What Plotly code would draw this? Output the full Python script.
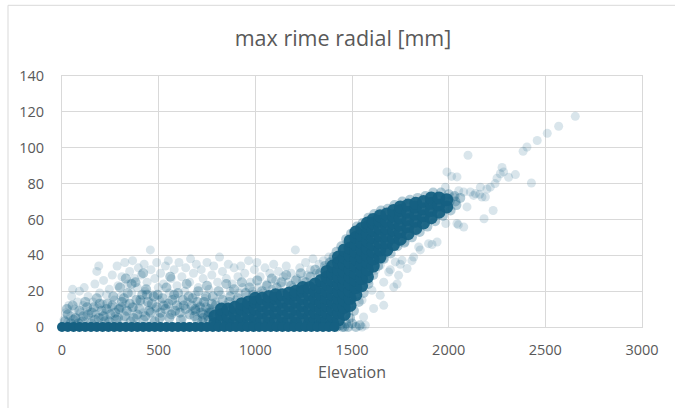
import plotly.graph_objects as go

# ---------------- data ----------------
# elevation values of the many stations with 0 mm rime (baseline band)
base_x = [0, 30, 60, 90, 120, 150, 180, 210, 240, 270, 300, 330, 360, 390, 420, 450,
          480, 510, 540, 570, 600, 630, 660, 690, 720, 750, 780, 810, 840, 870, 900, 930,
          960, 990, 1020, 1050, 1080, 1110, 1140, 1170, 1200, 1230, 1260, 1290, 1320,
          1350, 1380, 1410]
base_y = [0] * len(base_x)

# dense core of the cloud
core_x = [
    790, 790,
    825, 825, 825,
    860, 860, 860,
    895, 895, 895,
    930, 930, 930, 930,
    965, 965, 965, 965,
    1000, 1000, 1000, 1000, 1000,
    1035, 1035, 1035, 1035,
    1070, 1070, 1070, 1070, 1070,
    1105, 1105, 1105, 1105, 1105,
    1140, 1140, 1140, 1140, 1140,
    1175, 1175, 1175, 1175, 1175,
    1210, 1210, 1210, 1210, 1210, 1210,
    1245, 1245, 1245, 1245, 1245, 1245,
    1280, 1280, 1280, 1280, 1280, 1280,
    1310, 1310, 1310, 1310, 1310, 1310,
    1340, 1340, 1340, 1340, 1340, 1340, 1340,
    1370, 1370, 1370, 1370, 1370, 1370, 1370, 1370,
    1400, 1400, 1400, 1400, 1400, 1400, 1400, 1400, 1400,
    1430, 1430, 1430, 1430, 1430, 1430, 1430, 1430, 1430, 1430,
    1460, 1460, 1460, 1460, 1460, 1460, 1460, 1460, 1460, 1460,
    1490, 1490, 1490, 1490, 1490, 1490, 1490, 1490, 1490, 1490,
    1520, 1520, 1520, 1520, 1520, 1520, 1520, 1520, 1520, 1520,
    1550, 1550, 1550, 1550, 1550, 1550, 1550, 1550, 1550,
    1580, 1580, 1580, 1580, 1580, 1580, 1580, 1580, 1580,
    1610, 1610, 1610, 1610, 1610, 1610, 1610, 1610,
    1645, 1645, 1645, 1645, 1645, 1645, 1645,
    1680, 1680, 1680, 1680, 1680, 1680,
    1715, 1715, 1715, 1715, 1715, 1715,
    1750, 1750, 1750, 1750, 1750, 1750,
    1790, 1790, 1790, 1790, 1790,
    1830, 1830, 1830, 1830, 1830,
    1870, 1870, 1870, 1870,
    1910, 1910, 1910, 1910,
    1950, 1950, 1950,
    1990, 1990,
]
core_y = [
    2, 6,
    3, 7, 10,
    2, 6, 10,
    3, 7, 11,
    2, 6, 10, 13,
    3, 7, 11, 14,
    2, 6, 10, 14, 16,
    4, 8, 12, 16,
    2, 6, 10, 14, 17,
    4, 8, 12, 16, 18,
    2, 6, 10, 14, 18,
    4, 8, 12, 16, 19,
    2, 6, 10, 14, 18, 20,
    4, 8, 12, 16, 20, 22,
    2, 6, 10, 14, 18, 22,
    4, 8, 12, 16, 20, 24,
    2, 6, 10, 14, 18, 22, 26,
    4, 8, 12, 16, 20, 24, 28, 31,
    2, 6, 10, 14, 18, 22, 26, 30, 34,
    4, 8, 12, 16, 20, 24, 28, 32, 36, 39,
    7, 11, 15, 19, 23, 27, 31, 35, 39, 43,
    12, 16, 20, 24, 28, 32, 36, 40, 44, 48,
    18, 22, 26, 30, 34, 38, 42, 46, 50, 53,
    23, 27, 31, 35, 39, 43, 47, 51, 55,
    28, 32, 36, 40, 44, 48, 52, 56, 58,
    34, 38, 42, 46, 50, 54, 58, 60,
    39, 43, 47, 51, 55, 59, 62,
    43, 47, 51, 55, 59, 63,
    46, 50, 54, 58, 62, 65,
    49, 53, 57, 61, 65, 67,
    52, 56, 60, 64, 68,
    55, 59, 63, 67, 69,
    58, 62, 66, 70,
    61, 65, 69, 72,
    64, 68, 72,
    67, 71,
]

# medium-density part of the cloud and the fringes of the core
mid_x = [15, 30, 45, 55, 70, 90, 105, 120, 135, 150,
         165, 180, 190, 205, 220, 235, 250, 265, 280, 295,
         310, 325, 340, 355, 365, 380, 390, 405, 420, 435,
         450, 465, 480, 495, 510, 525, 540, 555, 570, 585,
         600, 615, 630, 645, 660, 675, 690, 705, 720, 735,
         750, 765, 780, 795, 810, 830, 850, 870, 890, 910,
         930, 950, 970, 990, 1010, 1035, 1060, 1085, 1110, 1135,
         1160, 1185, 1210, 1235, 1260, 1285, 1310, 1335, 1360, 1385,
         1405, 300, 330, 360, 420, 440, 560,
         25, 60, 85, 110, 130, 155, 170, 195, 215, 230,
         245, 260, 275, 290, 305, 320, 335, 350, 370, 385,
         400, 415, 430, 445, 460, 475, 490, 505, 520, 535,
         550, 565, 580, 595, 610, 625, 640, 655, 670, 685,
         700, 715, 730, 745, 760, 775, 790, 815, 840, 865, 895, 920,
         700, 730, 760, 690, 745, 725, 770, 755,
         1420, 1445, 1470, 1495, 1525, 1555, 1585, 1615, 1650, 1685,
         1720, 1760, 1800, 1840, 1880, 1920, 1960, 2000, 2030, 2060, 2005, 2035,
         1450, 1470, 1490, 1510, 1535, 1560, 1585, 1610, 1635, 1665,
         1700, 1735, 1770, 1810, 1850, 1890, 1930, 1970, 2010, 2040,
         1420, 1440, 1460, 1480, 1500, 1520, 1540]
mid_y = [3, 7, 2, 12, 5, 9, 3, 14, 7, 2,
         11, 16, 5, 9, 3, 13, 7, 17, 4, 10,
         14, 6, 19, 3, 11, 25, 7, 15, 4, 21,
         9, 13, 3, 18, 8, 12, 22, 5, 15, 9,
         19, 4, 12, 24, 7, 16, 10, 20, 8, 14,
         23, 10, 17, 12, 20, 15, 24, 17, 21, 16,
         25, 19, 22, 18, 26, 20, 23, 27, 22, 25,
         29, 23, 26, 30, 25, 28, 32, 30, 34, 36,
         39, 22, 27, 24, 30, 18, 28,
         10, 4, 2, 6, 11, 8, 4, 13, 6, 10,
         3, 12, 8, 5, 11, 16, 9, 13, 5, 15,
         10, 18, 6, 14, 8, 17, 11, 5, 16, 10,
         13, 7, 18, 12, 8, 15, 10, 17, 12, 6,
         14, 11, 5, 17, 8, 13, 6, 10, 8, 14, 12, 9,
         4, 7, 4, 9, 11, 3, 8, 6,
         42, 45, 49, 52, 56, 58, 61, 63, 65, 66,
         68, 70, 71, 72, 73, 75, 75, 74, 73, 72, 70, 70,
         0, 2, 5, 9, 14, 19, 24, 29, 34, 38,
         41, 45, 47, 50, 53, 56, 59, 62, 65, 68,
         0, 1, 0, 0, 2, 0, 1]

# sparse single stations of the lower cloud
cloud_x = [10, 20, 30, 35, 45, 50, 55, 65, 70, 80, 90, 95, 100,
           110, 115, 125, 135, 145, 150, 160, 170, 175, 180, 185, 190, 195, 200,
           210, 215, 225, 230, 240, 245, 255, 260, 270, 275, 285, 290, 295,
           305, 310, 320, 325, 330, 340, 345, 350, 360, 365, 370, 375, 385, 390, 395,
           405, 410, 420, 425, 430, 440, 445, 457, 460, 465, 470, 480, 485, 490, 498,
           505, 510, 520, 525, 535, 540, 550, 555, 565, 570, 580, 585, 595,
           605, 610, 620, 625, 635, 640, 650, 660, 665, 675, 680, 690, 695,
           705, 715, 720, 730, 740, 750, 760, 770, 775, 785, 795,
           805, 815, 820, 830, 845, 850, 860, 870, 880, 890, 898,
           910, 915, 925, 935, 945, 955, 965, 975, 985, 995,
           1008, 1015, 1025, 1040, 1050, 1060, 1075, 1085, 1095,
           1105, 1120, 1130, 1145, 1160, 1170, 1185, 1195,
           1207, 1215, 1230, 1245, 1260, 1270, 1285, 1298,
           1315, 1330, 1352, 1365, 1380, 1395]
cloud_y = [4, 8, 3, 12, 6, 17, 21, 10, 5, 14, 20, 8, 3,
           12, 22, 6, 17, 9, 3, 14, 24, 7, 31, 11, 34, 19, 5,
           13, 26, 8, 18, 4, 21, 11, 29, 15, 6, 34, 23, 10,
           17, 28, 4, 36, 13, 24, 8, 31, 19, 37, 11, 27, 5, 22, 33,
           14, 29, 8, 35, 20, 25, 12, 43, 32, 4, 18, 27, 10, 36, 22,
           15, 30, 6, 24, 34, 12, 37, 19, 27, 8, 32, 16, 23,
           36, 11, 28, 5, 20, 33, 14, 25, 38, 9, 30, 18, 35,
           22, 12, 32, 27, 16, 36, 21, 9, 29, 34, 14,
           25, 39, 18, 31, 12, 27, 35, 20, 24, 33, 15,
           28, 19, 34, 22, 30, 17, 37, 25, 20, 32,
           36, 22, 28, 19, 33, 24, 30, 21, 35,
           26, 31, 23, 28, 34, 25, 30, 22,
           43, 27, 33, 26, 36, 29, 32, 38,
           30, 35, 37, 33, 39, 37]

# stations below the main band at 1500-1950 m
low_out_x = [1552, 1569, 1560, 1612, 1664, 1552, 1646, 1603, 1716, 1664, 1586, 1741, 1690,
             1621, 1785, 1646, 1724, 1759, 1664, 1819, 1681, 1845, 1896, 1776, 1940, 1853,
             1914, 1810, 1750, 1733, 1698]
low_out_y = [0, 1, 5.6, 10.3, 12.1, 15, 17.7, 20.5, 22.3, 25, 26, 28.8, 30.7,
             31.6, 32.6, 34.4, 36.3, 37.2, 38.1, 39, 41.8, 44.6, 46.5, 47.4, 47.4, 43,
             46, 37, 35, 24, 32]

# high-elevation stations
high_x = [2655, 2569, 2510, 2458, 2405, 2385, 2428, 2100, 2276, 2284, 2267, 2250, 2310,
          2345, 2215, 2190, 2230, 2183, 2164, 2138, 2095, 2043, 2078, 2043, 1991, 1983,
          1985, 2052, 2112, 2172, 2198, 2129, 2078, 2026, 2050, 2160, 2240, 2015]
high_y = [117.5, 112, 108, 104, 100.4, 98, 80.3, 95.8, 89, 86.5, 85.5, 83, 83.5,
          85, 78, 72.5, 65, 60.4, 78, 74.4, 67, 57.7, 55.8, 83.7, 86.5, 78,
          57.7, 76, 75.3, 72.5, 77, 73.4, 75.3, 72.5, 57, 74, 80, 84]

x_ticks = [0, 500, 1000, 1500, 2000, 2500, 3000]
y_ticks = [0, 20, 40, 60, 80, 100, 120, 140]

# ---------------- figure ----------------
COLOR = "#156082"
FONT = "Open Sans"
TXT = "#595959"
GRID = "#d9d9d9"

fig = go.Figure()


def add(xs, ys, size, op):
    fig.add_trace(go.Scatter(
        x=xs, y=ys, mode="markers", cliponaxis=False, hoverinfo="skip",
        marker=dict(color=COLOR, size=size, opacity=op, line=dict(width=0)),
    ))


add(cloud_x + low_out_x + high_x, cloud_y + low_out_y + high_y, 9, 0.16)
add(mid_x, mid_y, 10, 0.32)
add(core_x, core_y, 13, 0.95)
add(base_x, base_y, 10, 1.0)

fig.update_layout(
    width=675, height=408,
    margin=dict(l=62, r=33, t=76, b=81),
    paper_bgcolor="white", plot_bgcolor="white",
    showlegend=False,
    font=dict(family=FONT, color=TXT),
    title=dict(text="max rime radial [mm]", x=343 / 675, xref="container", xanchor="center",
               y=1 - 38 / 408, yref="container", yanchor="middle",
               font=dict(family=FONT, size=21.5, color=TXT)),
    shapes=[dict(type="rect", xref="paper", yref="paper",
                 x0=(8 - 62) / 580, x1=1.2, y0=-0.5, y1=(326.7 - 5) / 251,
                 line=dict(color=GRID, width=1), fillcolor="rgba(0,0,0,0)", layer="below")],
)
fig.update_xaxes(
    range=[0, 3000], tickvals=x_ticks, ticktext=[str(v) for v in x_ticks],
    showgrid=True, gridcolor=GRID, gridwidth=1, zeroline=False,
    showline=True, linecolor=GRID, linewidth=1, mirror=True, layer="below traces",
    ticks="", ticklabelstandoff=10,
    tickfont=dict(family=FONT, size=14.5, color=TXT),
    title=dict(text="Elevation", font=dict(family=FONT, size=16, color=TXT), standoff=8),
)
fig.update_yaxes(
    range=[0, 140], tickvals=y_ticks, ticktext=[str(v) for v in y_ticks],
    showgrid=True, gridcolor=GRID, gridwidth=1, zeroline=False,
    showline=True, linecolor=GRID, linewidth=1, mirror=True, layer="below traces",
    ticks="", ticklabelstandoff=14,
    tickfont=dict(family=FONT, size=14.5, color=TXT),
)

fig.write_html("out.html")
